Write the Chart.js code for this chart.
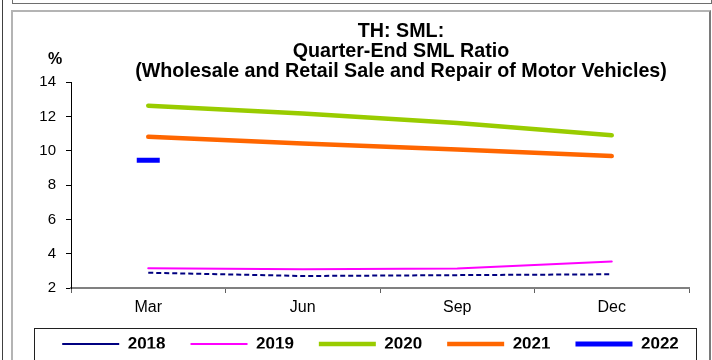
<!DOCTYPE html>
<html>
<head>
<meta charset="utf-8">
<script src="https://cdn.jsdelivr.net/npm/chart.js@4/dist/chart.umd.min.js"></script>
<style>
  html, body { margin: 0; padding: 0; background: #fff; }
  #wrap { position: relative; width: 712px; height: 360px; overflow: hidden; }
  #wrap div { position: absolute; box-sizing: border-box; }
  .edge { left: 2px; top: 0; width: 1px; height: 360px; background: #404040; }
  .upper { left: 12px; top: -20px; width: 700px; height: 24px; border: 1px solid #6e6e6e; }
  .panel { left: 11px; top: 10px; width: 700px; height: 400px; border: 2px solid #b4b4b4; border-right-color: #7a7a7a; }
  .legendbox { left: 34px; top: 328px; width: 663px; height: 60px; border: 1px solid #202020; }
  canvas { position: absolute; left: 0; top: 0; }
</style>
</head>
<body>
<div id="wrap">
  <div class="edge"></div>
  <div class="upper"></div>
  <div class="panel"></div>
  <div class="legendbox"></div>
  <canvas id="sml-chart" width="712" height="360"></canvas>
</div>
<script>
// Quarter-end SML ratio, %, by year
const quarters = ['Mar', 'Jun', 'Sep', 'Dec'];
const sml2018 = [2.89, 2.70, 2.75, 2.80];
const sml2019 = [3.15, 3.10, 3.13, 3.54];
const sml2020 = [12.63, 12.18, 11.62, 10.90];
const sml2021 = [10.82, 10.42, 10.07, 9.69];
const sml2022 = [9.45, null, null, null];
const yMin = 2, yMax = 14, yStep = 2;

const titleLines = ['TH: SML:', 'Quarter-End SML Ratio', '(Wholesale and Retail Sale and Repair of Motor Vehicles)'];
const font = 'Liberation Sans';

// title sits off-centre in the panel, legend row is nudged right and up, "%" above the y axis
const panelText = {
    id: 'panelText',
    afterLayout(chart) {
        const t = chart.titleBlock;
        t.left = 2 * 401 - t.right;
        const lg = chart.legend;
        lg.left += 26;
        lg.right += 26;
        lg.top -= 11.5;
        lg.bottom -= 11.5;
    },
    afterDraw(chart) {
        const ctx = chart.ctx;
        const y = chart.scales.y;
        ctx.save();
        ctx.font = 'bold 16px "' + font + '"';
        ctx.fillStyle = '#000';
        ctx.textAlign = 'center';
        ctx.textBaseline = 'middle';
        ctx.fillText('%', y.right - 16, chart.chartArea.top - 23);
        ctx.restore();
    }
};

function series(label, data, color, width, extra) {
    return Object.assign({
        label: label,
        data: data,
        borderColor: color,
        backgroundColor: color,
        borderWidth: width,
        borderCapStyle: 'round',
        pointRadius: 0,
        pointHoverRadius: 0,
        fill: false,
        tension: 0
    }, extra || {});
}

new Chart(
    document.getElementById('sml-chart'),
    {
        type: 'line',
        data: {
            labels: quarters,
            datasets: [
                series('2018', sml2018, '#000080', 2, { borderDash: [5, 3], borderCapStyle: 'butt' }),
                series('2019', sml2019, '#ff00ff', 2),
                series('2020', sml2020, '#99cc00', 4.5),
                series('2021', sml2021, '#ff6600', 4.5),
                series('2022', sml2022, '#0000ff', 7, {
                    showLine: false,
                    pointStyle: 'line',
                    pointRadius: 11.5,
                    pointBorderWidth: 5,
                    pointBorderColor: '#0000ff'
                })
            ]
        },
        options: {
            responsive: false,
            animation: false,
            layout: { padding: { left: 0, right: 23, top: 0, bottom: 0 } },
            plugins: {
                title: {
                    display: true,
                    text: titleLines,
                    color: '#000',
                    font: { family: font, size: 19.7, weight: 'bold', lineHeight: '20.4px' },
                    padding: { top: 21, bottom: 0 }
                },
                legend: {
                    position: 'bottom',
                    maxHeight: 38,
                    labels: {
                        usePointStyle: true,
                        pointStyle: 'line',
                        pointStyleWidth: 57,
                        padding: 25,
                        color: '#000',
                        font: { family: font, size: 17, weight: 'bold' }
                    }
                },
                tooltip: { enabled: false }
            },
            scales: {
                x: {
                    offset: true,
                    grid: { offset: true, drawOnChartArea: false, tickLength: 5, tickColor: '#606060', tickWidth: 1 },
                    border: { color: '#808080', width: 2 },
                    ticks: { padding: 5, color: '#000', font: { family: font, size: 16 } },
                    afterFit: scale => { scale.height = 34; }
                },
                y: {
                    min: yMin,
                    max: yMax,
                    grid: { drawOnChartArea: false, tickLength: 5, tickColor: '#000' },
                    border: { color: '#000', width: 1 },
                    ticks: { stepSize: yStep, padding: 10, color: '#000', font: { family: font, size: 15 } },
                    afterFit: scale => { scale.width = 71; }
                }
            }
        },
        plugins: [panelText]
    }
);
</script>
</body>
</html>
